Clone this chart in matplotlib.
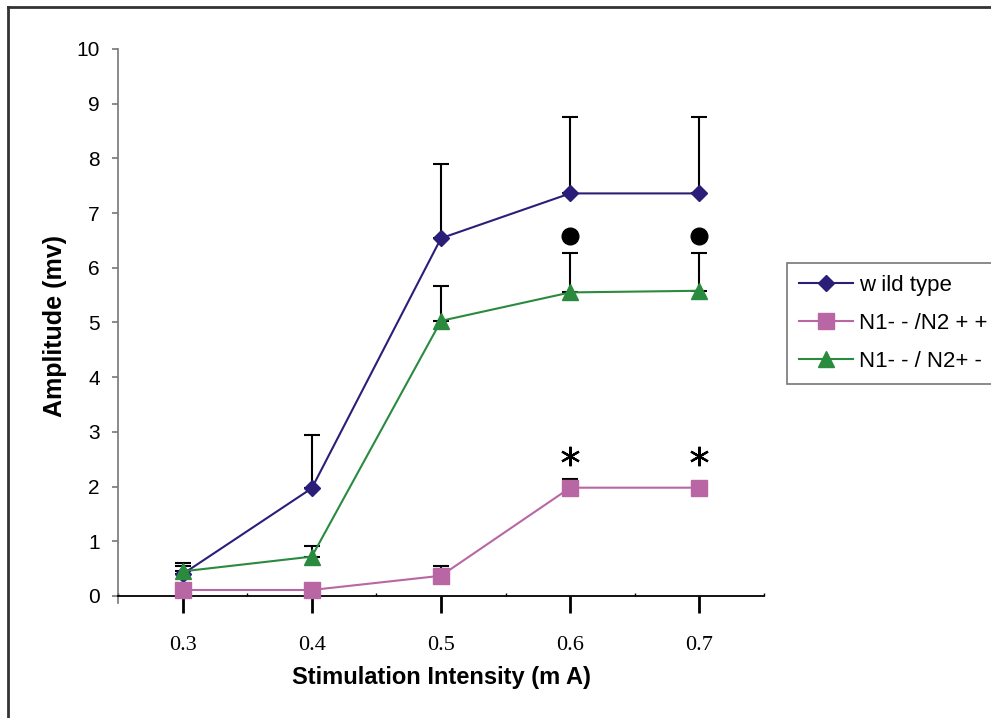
import numpy as np
import matplotlib
matplotlib.use("Agg")
import matplotlib.pyplot as plt
from matplotlib.lines import Line2D

# ==========================================
# Data
# ==========================================

intensity = ["0.3", "0.4", "0.5", "0.6", "0.7"]

wild_type = [0.40, 1.97, 6.54, 7.36, 7.36]
wild_type_err = [0.20, 0.97, 1.36, 1.40, 1.40]

n2_pp = [0.11, 0.11, 0.37, 1.98, 1.98]
n2_pp_err = [0.03, 0.03, 0.18, 0.16, 0.0]

n2_pm = [0.45, 0.72, 5.03, 5.55, 5.58]
n2_pm_err = [0.10, 0.19, 0.64, 0.72, 0.69]

labels = ["w ild type", "N1- - /N2 + +", "N1- - / N2+ -"]

# significance marks (category index, height)
dot_idx = [3, 4]
dot_y = [6.58, 6.58]
star_idx = [3, 4]
star_y = [2.56, 2.56]

# ==========================================
# Figure
# ==========================================

W, H = 991, 718
fig = plt.figure(figsize=(W / 100, H / 100), dpi=100)
ax = fig.add_axes([118 / W, 1 - 603 / H, 646 / W, (603 - 49) / H])

x = np.arange(len(intensity)) + 0.5

series = [
    (wild_type, wild_type_err, "#2B1E78", "D", 8.5),
    (n2_pp, n2_pp_err, "#B966A5", "s", 11),
    (n2_pm, n2_pm_err, "#2A8A3E", "^", 11),
]

handles = []
for (y, err, col, mk, ms), lab in zip(series, labels):
    ax.errorbar(
        x, y,
        yerr=[np.zeros(len(y)), err],
        fmt="none",
        ecolor="black",
        elinewidth=1.5,
        capsize=6,
        capthick=1.5,
        zorder=1,
    )
    h, = ax.plot(x, y, color=col, lw=1.5, marker=mk, ms=ms,
                 markeredgecolor=col, zorder=3, label=lab)
    handles.append(h)

ax.plot(x[dot_idx], dot_y, "o", color="black", ms=12, zorder=4)
ax.plot(x[star_idx], star_y, color="black", ls="none",
        marker=(6, 2, 0), ms=14, mew=1.6, zorder=4)

# ==========================================
# Axes
# ==========================================

ax.set_xlim(0, 5)
ax.set_ylim(-0.128, 10)

for s in ["top", "right"]:
    ax.spines[s].set_visible(False)
ax.spines["bottom"].set_position(("data", 0))
ax.spines["bottom"].set_linewidth(1.3)
ax.spines["left"].set_color("#777777")
ax.spines["left"].set_linewidth(1.2)

ax.set_yticks(range(0, 11))
ax.tick_params(axis="y", direction="out", length=4, width=1.2,
               color="#777777", pad=9, labelsize=15)

ax.set_xticks(x)
ax.set_xticklabels(intensity, fontfamily="Liberation Serif", fontsize=16)
ax.set_xticks(np.arange(0, 6), minor=True)
ax.tick_params(axis="x", which="major", direction="out", length=12,
               width=2, pad=17)
ax.tick_params(axis="x", which="minor", direction="in", length=2, width=1)

for t in ax.get_yticklabels():
    t.set_fontfamily("Liberation Sans")

ax.set_xlabel("Stimulation Intensity (m A)", fontsize=17, fontweight="bold",
              fontfamily="Liberation Sans", labelpad=8)
ax.set_ylabel("Amplitude (mv)", fontsize=18, fontweight="bold",
              fontfamily="Liberation Sans", labelpad=7)

leg = fig.legend(
    handles=handles,
    loc="upper left",
    bbox_to_anchor=(787 / W, 0, 0.3, 1 - 263 / H),
    mode="expand",
    prop={"family": "Liberation Sans", "size": 16},
    frameon=True,
    fancybox=False,
    borderaxespad=0,
    handlelength=2.4,
    handletextpad=0.3,
    labelspacing=0.75,
    borderpad=0.55,
)
leg.get_frame().set_edgecolor("#555555")
leg.get_frame().set_linewidth(1.2)

# outer frame (left and top edges)
fig.add_artist(Line2D([8 / W, 8 / W], [0, 1 - 7 / H], color="#333333", lw=2))
fig.add_artist(Line2D([8 / W, 1], [1 - 7 / H, 1 - 7 / H], color="#333333", lw=2))

fig.savefig("out.png", dpi=100)
